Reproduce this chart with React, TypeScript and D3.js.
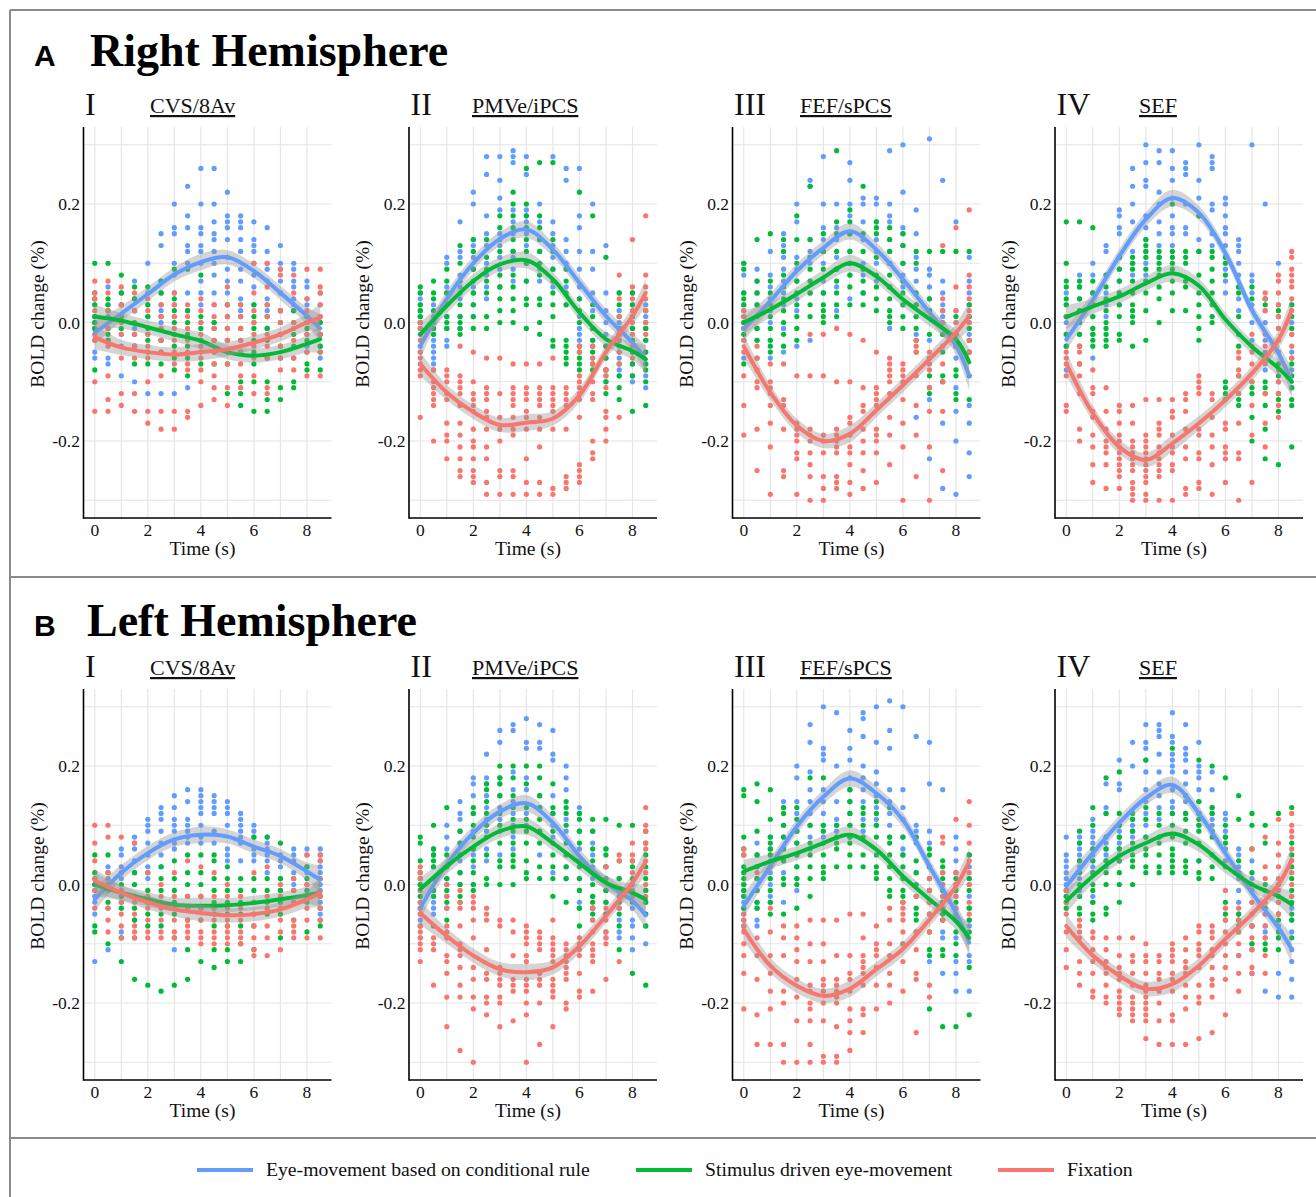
import React from "react";
import * as d3 from "d3";

// ---------- DATA ----------
const timePoints = [0, 0.5, 1, 1.5, 2, 2.5, 3, 3.5, 4, 4.5, 5, 5.5, 6, 6.5, 7, 7.5, 8, 8.5];
const curveTimes = [0, 1, 2, 3, 4, 5, 6, 7, 8, 8.5];
const ribbonHalf = [0.02, 0.013, 0.012, 0.012, 0.014, 0.012, 0.012, 0.012, 0.015, 0.024];
const xTicks = [0, 2, 4, 6, 8];
const yTicks = [-0.2, 0, 0.2];
const xGrid = [0, 1, 2, 3, 4, 5, 6, 7, 8];
const yGrid = [-0.3, -0.2, -0.1, 0, 0.1, 0.2, 0.3];
const hemispheres = ["Right Hemisphere", "Left Hemisphere"];
const hemiLetters = ["A", "B"];
const numerals = ["I", "II", "III", "IV"];
const regions = ["CVS/8Av", "PMVe/iPCS", "FEF/sPCS", "SEF"];
const seriesNames = ["Eye-movement based on conditional rule", "Stimulus driven eye-movement", "Fixation"];
const seriesColors = ["#619CFF", "#00BA38", "#F8766D"];

// dots: hundredths of % BOLD, groups per time point separated by "|"
// Right hemisphere
const rhCvsRule = "3 1 0 -1 -3 -5 -6|6 3 1 -1 -3 -6 -7|5 3 1 -2 -4 -9|7 4 2 -1 -4 -10|10 5 3 1 -2 -12|15 13 7 5 2 0 -3 -12|20 16 15 10 8 5 3 1 -12|23 18 16 13 12 10 5 2 -11|26 20 16 15 13 12 10 7 5 3 0|26 20 17 15 14 12 10 8 5 3 0|22 18 17 16 14 11 9 7 5 3|18 17 16 14 12 9 7 4 2|17 14 13 12 10 8 6 3 0|16 12 10 9 7 4 2 -1|13 10 9 7 5 2 0 -2|10 9 7 6 4 2 -1|7 6 4 3 1 -2 -4|5 3 1 0 -2 -4 -6";
const rhCvsStim = "10 5 4 3 1 0 -1 -8|10 4 3 2 -2 -3|8 5 3 1 -1|6 4 2 0 -2 -4 -7|6 3 1 -1 -3 -5 -7|7 5 3 1 -1 -3 -5 -7|9 4 2 0 -2 -4 -6 -8|9 2 0 -2 -4 -6 -9|8 1 -1 -3 -5 -7|0 -1 -3 -5 -7|3 1 -1 -3 -5 -7 -12|3 1 -1 -3 -5 -10 -12 -14|3 1 -1 -3 -5 -7 -10 -15|3 1 -1 -3 -6 -10 -13 -15|2 0 -2 -4 -6 -11 -13|2 0 -2 -4 -6 -10 -11|1 -1 -3 -5 -7 -8|0 -2 -4 -5 -8";
const rhCvsFix = "7 5 4 2 -2 -3 -10 -15|7 5 2 -1 -4 -9 -13 -15|6 3 0 -2 -6 -12 -14|5 2 -2 -4 -6 -12 -15|4 2 -2 -4 -6 -10 -15 -17|3 1 -1 -3 -5 -9 -15 -18|5 3 1 -1 -3 -5 -7 -15 -18|3 1 -1 -3 -5 -7 -8 -15 -16|4 2 0 -2 -4 -6 -8 -10 -14|3 1 -1 -3 -5 -7 -9 -11 -13|6 3 1 -1 -3 -5 -7 -11 -14|3 1 -1 -3 -5 -7 -9 -11|10 5 2 0 -2 -4 -6 -9 -12|10 6 3 1 -2 -4 -6 -11 -12|9 8 5 2 0 -2 -4 -6 -8|8 5 3 0 -3 -6 -8|9 4 2 0 -2 -5 -9|9 6 5 3 1 -2 -5 -9";
const rhPmvRule = "5 4 3 2 1 0 -2 -4 -5 -7|3 1 -1 -2 -3 -4 -5 -6 -7 -8|11 10 6 5 3 1 -1 -3 -4|17 12 11 8 6 4 1 -1|22 20 14 13 11 9 6 5 3 1|28 25 18 15 13 10 8 6 4|28 24 21 19 15 13 11 9 6|29 28 27 19 17 15 12 11 9 7|28 25 19 18 17 15 13 10 7|20 17 14 12 9 7|28 17 15 13 11 9 6|26 24 14 12 10 6 3|26 18 16 12 9 6 4 1 -1 -2 -3|20 12 9 5 2 -1 -3 -4 -6|13 5 2 0 -2 -4 -6 -8 -9 -10|5 2 0 -2 -4 -6 -8 -9|5 3 1 -1 -3 -5 -7 -9 -10|3 1 -1 -3 -5 -7 -9 -11";
const rhPmvStim = "6 5 3 2 1 0 -1|7 5 4 2 0 -1 -2|9 7 5 3 1 0 -1|13 10 7 5 3 1 0 -1 -2|14 12 9 7 5 3 1 -1|14 11 9 7 5 1 -1|18 16 14 12 8 6 4 2 0|22 20 18 16 14 12 8 6 4 2 0|26 20 18 16 14 12 10 7 4 3 -1|27 18 16 14 12 10 8 4 3 0 -2|27 14 12 9 7 5 3 1 -3 -4|9 7 5 3 -3 -4 -5 -6 -7|22 4 2 0 -4 -5 -6 -7 -8|18 3 1 -1 -3 -5 -7 -8|11 -4 -6 -8 -10 -12|5 3 1 -1 -3 -5 -7 -9 -11 -13|5 3 1 -1 -3 -5 -7 -9 -15|2 0 -1 -3 -5 -7 -8 -10 -14";
const rhPmvFix = "0 -1 -3 -5 -6 -8 -9 -16|-8 -10 -11 -12 -13 -14 -20|-8 -9 -10 -12 -13 -17 -19 -20 -23|-4 -9 -10 -11 -12 -14 -17 -19 -21 -23 -25 -26|-5 -10 -12 -13 -14 -15 -18 -20 -21 -23 -25 -26 -27|-6 -11 -12 -13 -15 -16 -18 -21 -23 -27 -29|-6 -12 -16 -18 -20 -25 -26 -29|-7 -11 -12 -13 -14 -16 -18 -19 -25 -26 -29|-7 -11 -12 -13 -15 -16 -18 -23 -27 -29|-7 -11 -12 -13 -14 -16 -18 -21 -27 -29|-6 -11 -12 -13 -14 -15 -18 -28 -29|-11 -12 -13 -14 -18 -26 -27 -28|-4 -5 -9 -10 -11 -12 -13 -16 -24 -25 -26 -27|-4 -6 -7 -10 -12 -13 -20 -22 -23|-8 -9 -11 -15 -16 -18 -20|8 4 1 -3 -5 -7 -16|14 6 4 2 0 -2 -4 -6|18 8 6 4 2 0 -2";
const rhFefRule = "10 8 5 3 2 0 -1 -3 -6|9 7 5 3 1 -1 -3|12 8 6 4 2 0 -3 -6|15 13 11 9 7 5 3 -1 -5|20 17 11 9 7 4 2 -4|24 23 14 12 10 7 5 -3|28 20 16 14 12 10 7 5|20 16 14 11 9 6 2|27 24 20 18 15 12 10 8 4|21 20 17 14 10 8 5|21 20 17 14 12 10 7|29 20 18 17 14 12 10 6 -1|30 22 16 15 13 10 8 6 3|19 15 11 9 7 3 1 -2 -16|31 9 8 6 4 2 -3 -6 -13 -23|24 7 5 3 1 -2 -4 -10 -17 -28|17 2 0 -2 -4 -6 -11 -15 -20 -29|11 7 5 3 1 0 -2 -5 -14 -17 -22 -26";
const rhFefStim = "10 9 5 4 3 1 0 -2 -7|14 7 5 3 1 -1 -3 -6|15 7 5 3 1 -1 -3 -4 -5|14 12 8 6 4 2 0 -2 -4|18 14 10 7 5 3 1 -1 -3|23 14 11 9 7 5 3 1|15 12 9 5 3 2 1 0|29 17 15 12 9 7 5 3 1|19 17 15 12 10 8 6 3|23 15 12 9 7 5 3|17 16 15 11 8 6 4 2|16 14 12 10 8 6 4 2 1 0|15 13 10 7 5 3 1 -1|12 10 5 3 1 -1 -3 -5|12 4 2 -2 -9 -11 -12|12 2 0 -2 -5 -9 -10|12 1 -2 -4 -8 -9 -12 -13|12 3 1 -1 -3 -5 -9 -13";
const rhFefFix = "2 1 -1 -3 -5 -9 -14 -19|-4 -6 -8 -10 -11 -18 -25|-7 -10 -11 -12 -14 -17 -21 -29|-7 -13 -14 -18 -25 -26|-9 -17 -18 -19 -20 -22 -23 -29|-2 -9 -18 -19 -20 -22 -24 -26 -30|-2 -9 -19 -20 -22 -26 -28 -30|-1 -10 -18 -19 -20 -21 -22 -26 -27 -28|-2 -10 -16 -17 -19 -21 -22 -24 -27 -29|-3 -11 -14 -15 -18 -20 -22 -25 -28|-5 -11 -12 -13 -14 -18 -19 -20 -22 -27|-6 -7 -8 -9 -10 -12 -16 -19 -24|-7 -8 -9 -10 -13 -17 -21 -30|-3 -4 -5 -9 -14 -19 -26|-5 -7 -8 -11 -15 -21 -30|13 4 2 0 -7 -10 -15 -25|16 6 2 0 -2 -4|19 8 6 4 2 0 -3 -5";
const rhSefRule = "5 3 1 0 -2 -4 -8|8 6 4 2 0 -2|10 8 5 3 1 -2 -6|13 12 8 5 3 1|19 18 16 15 11 9 7 5 3|26 23 20 17 12 10 8 5|30 27 24 23 18 16 14 12 10 8|29 27 22 20 17 15 13 11|29 26 24 21 18 16 15 13|27 26 25 20 16 15|30 24 21 18 14 12|28 27 26 20 19 15 13|21 20 18 16 15 13 11 9 7 5|14 13 12 10 8 6 4 2|30 8 7 5 3 0 -3|20 4 2 0 -3 -5 -8|10 3 1 -1 -5 -8 -10 -12|3 0 -2 -5 -8 -11";
const rhSefStim = "17 10 7 6 4 3 1 -2 -4|17 7 6 4 2 0 -2 -4 -7|16 7 5 3 1 -1 -2 -3 -4|8 6 4 2 0 -1 -2 -3 -4|11 9 7 5 3 1 -2 -3|11 10 9 7 5 3 2 1 0 -4|14 13 12 11 9 7 5 2 -3|12 11 10 9 8 6 4 0|20 12 11 10 9 7 5 2|12 11 10 7 6 2|18 12 8 5 3 1 -1 -3|12 11 9 7 5 3 1 0|11 10 8 -10 -11 -12 -13|6 5 1 -2 -4 -9 -12 -13 -14|6 4 -10 -11 -12 -16 -20|4 3 -10 -11 -12 -14 -18 -23|2 -7 -9 -12 -13 -15 -24|3 1 -1 -6 -7 -9 -11 -13 -14 -21";
const rhSefFix = "1 -5 -6 -7 -9 -14 -15|-4 -5 -7 -9 -12 -18 -20|-8 -11 -12 -15 -16 -19 -21 -24 -27|-11 -15 -18 -20 -21 -22 -24 -28|-14 -15 -17 -19 -20 -21 -22 -23 -24 -25 -26 -28|-14 -17 -20 -21 -22 -23 -24 -25 -27 -28 -29 -30|-13 -19 -20 -21 -22 -23 -24 -25 -26 -27 -29 -30|-13 -17 -18 -19 -21 -22 -23 -24 -25 -26 -30|-13 -15 -16 -19 -21 -22 -24 -25 -30|-12 -13 -15 -18 -21 -23 -28 -29|-9 -10 -11 -12 -18 -19 -22 -23 -27 -28|-12 -13 -16 -19 -21 -24 -29|-17 -18 -21 -22 -23 -27|-5 -6 -8 -9 -12 -17 -22 -23 -30|-2 -4 -5 -7 -10 -14 -19 -27|5 4 2 -2 -4 -7 -12 -17 -21|8 7 5 3 1 -1 -3 -5 -8 -10 -12 -14 -16|12 11 9 8 7 6 4 2 -2 -4 -6";
// Left hemisphere
const lhCvsRule = "0 -1 -2 -3 -5 -13|3 1 -1 -4 -11|6 5 3 1 -3 -8|8 7 6 4 2 -2 -6|11 10 9 7 5 3 1|13 12 11 9 7 5 3|15 13 11 10 9 7 6 -11|16 14 11 10 9 8 7|16 15 14 13 12 10 8 7|15 14 13 12 9 7|14 13 12 10 6 5 4|12 11 10 9 8 7 4|10 9 8 6 5 4|8 7 6 5 4 2|5 4 3 1 -1|6 5 4 2 0|6 5 3 2 0|6 5 4 3 2 0 -1 -3 -5";
const lhCvsStim = "5 2 1 0 -7 -8|5 2 0 -3 -10|2 0 -2 -4 -9 -13|2 0 -2 -4 -6 -9 -16|2 -1 -3 -5 -7 -17|3 1 -1 -3 -5 -7 -18|4 1 -1 -3 -5 -9 -17|5 2 0 -2 -4 -6 -11 -16|5 2 0 -2 -4 -6 -13|5 4 1 -1 -3 -5 -7 -11 -14|3 1 -1 -3 -5 -7 -11 -13|1 -1 -3 -5 -7 -10 -13|8 1 -1 -3 -5 -7 -11|8 1 -1 -3 -5|7 1 -1 -3 -5 -9|1 -1 -3 -6|3 1 -1 -3 -8|1 -2 -4 -6 -7";
const lhCvsFix = "10 7 4 1 -1 -4|10 8 2 -4 -6 -8|8 2 -1 -3 -5 -7 -9|7 -3 -5 -7 -8 -9|2 -2 -4 -6 -8 -9|0 -2 -4 -6 -8 -9|2 -2 -4 -6 -8 -9|4 -2 -4 -6 -7 -8 -9|3 -2 -4 -6 -8 -9 -10|2 -2 -4 -6 -8 -9 -10|0 -2 -4 -6 -7 -8 -9 -10|-2 -4 -6 -8 -9 -10|2 -3 -5 -7 -9 -11 -12|3 -2 -4 -7 -9 -12|0 -2 -4 -6 -8 -11|1 -1 -3 -6 -7 -8 -9|5 0 -2 -4 -6 -9|5 4 1 -2 -4 -6 -9";
const lhPmvRule = "0 -1 -2 -3 -4 -5 -6 -9|6 5 3 1 -1 -2 -3 -4 -5|10 8 6 3 1 0 -2 -4|14 12 11 9 7 4 2 0|18 17 15 12 9 6 5 3 0|22 18 17 15 13 11 9 6 4|26 24 18 17 15 13 11 9 5|27 26 19 16 14 12 10 8 6|28 24 23 18 16 12 10|27 24 23 15 13 9 5|26 22 21 15 12 10 8 2|20 18 16 11 9 5 3 1|13 12 9 6 4 1 -1 -3 -4|9 7 5 3 1 -2 -4 -6|6 3 1 -1 -3 -5 -8 -9|1 -2 -4 -6 -8 -9|0 -2 -4 -6 -7 -9 -11|-1 -3 -5 -7 -10";
const lhPmvStim = "8 7 4 2 1 0 -2 -7|10 6 5 4 3 1 -1 -2 -7|13 5 3 1 -1 -3 -6|9 7 5 2 0 -2 -3|13 12 10 8 6 4 2 0 -1|17 16 14 12 10 8 5 1 0|20 18 17 15 12 10 7 4 3 0|20 18 15 13 11 9 7 5 4 3 0|20 17 13 11 9 7 4 2 1|20 18 15 13 11 9 7 3 1|17 13 12 9 7 5 3 1 -2|14 13 12 10 7 5 3 1 -3|12 11 9 7 3 1 -1 -4 -7|11 9 6 4 2 0 -2 -3 -4 -5|11 6 5 3 1 -1 -3 -5|10 4 1 -1 -3 -5 -7 -11|10 4 3 1 -1 -3 -15|9 7 5 3 1 -1 -3 -5 -7 -17";
const lhPmvFix = "3 2 1 -1 -3 -4 -5 -7 -8 -9 -10 -11 -13|-9 -10 -11 -17|0 -2 -4 -7 -8 -9 -12 -13 -15 -19 -24|-1 -3 -4 -7 -10 -11 -12 -14 -17 -19 -28|-2 -3 -4 -6 -9 -14 -16 -19 -21 -30|-4 -5 -6 -11 -15 -16 -19 -20 -22|-6 -7 -14 -15 -16 -17 -19 -20 -24|-6 -8 -12 -16 -17 -18 -23|-7 -8 -9 -10 -12 -13 -16 -17 -18 -20 -22 -30|-8 -9 -10 -11 -15 -16 -17 -20 -27|-6 -9 -10 -11 -12 -13 -16 -17 -18 -19 -24|-10 -11 -12 -13 -14 -15 -16 -20 -21|-9 -10 -11 -12 -15 -18 -19|-4 -6 -8 -10 -11 -12 -13 -18|3 -4 -6 -8 -9 -10 -16|5 4 -4 -13|7 5 4 2 -1|13 10 9 7 6 4 2 0 -2";
const lhFefRule = "0 -1 -2 -3 -4 -5 -6 -7|7 5 3 1 -1 -3 -4 -6 -7|8 6 4 2 0 -2 -3|14 13 10 8 6 4 2 -3|20 18 14 12 9 7 5 3 1 -1|27 24 19 16 14 12 10 8 6|30 23 22 21 16 14 12 10 8|29 20 14 11 10 9 8|26 23 21 18 16 14 12 10 8|29 28 25 20 18 16 14 11 9|30 24 19 17 15 13 11 10|31 26 23 16 14 12 10 8|30 16 13 11 8 6 5|25 10 9 8 7 2|24 17 9 7 3 1 -1 -13|16 2 0 -2 -4 -6 -8 -9 -15|8 6 4 2 0 -2 -4 -9 -13 -15 -18|5 3 1 0 -2 -4 -6 -7 -12 -13 -18";
const lhFefStim = "16 15 8 6 5 3 2 1 0 -1 -2 -4|17 14 9 5 3 1 -1 -3 -4|16 11 8 7 6 5 3 1 -1 -3 -5|13 12 10 8 6 4 1 0 -5|13 11 9 7 5 3 1 0 -4|18 10 7 5 3 1 -2|18 10 9 7 5 3 2 1|10 8 7 6 3|16 14 12 10 8 7 5 3|13 12 10 8 5 3|14 12 10 8 5 3 2 1|13 8 7 5 3 1 -1 -2|8 5 3 1 -1 -2 -3 -10|8 4 2 0 -2 -4 -5 -6 -8|6 5 3 1 -1 -3 -5 -8 -11 -12 -21|4 3 1 -1 -3 -5 -6 -11 -12 -24|1 -1 -3 -5 -6 -8 -10 -12 -24|5 1 -1 -4 -6 -8 -14 -22";
const lhFefFix = "6 5 -5 -6 -7 -8 -10 -12 -15 -21|2 -9 -12 -16 -22 -27|-4 -8 -12 -15 -18 -21 -27|-7 -9 -12 -18 -20 -27 -30|-7 -9 -11 -13 -16 -19 -23 -30|-6 -10 -13 -17 -18 -20 -21 -23 -27 -30|-6 -10 -13 -16 -17 -18 -20 -23 -29 -30|-6 -12 -16 -17 -18 -19 -20 -24 -29 -30|-5 -12 -15 -16 -18 -21 -23 -25 -28|-5 -9 -12 -13 -14 -15 -17 -21 -22 -25|-7 -10 -11 -12 -14 -17 -21|-4 -6 -10 -12 -15 -17 -20|-3 -4 -5 -6 -8 -10 -13 -18|-2 -8 -11 -15 -16 -25|1 -1 -3 -5 -8 -17 -19|8 7 2 0 -2 -4 -6|11 2 0 -2 -4|14 10 7 4 2 0 -3 -5";
const lhSefRule = "8 5 4 3 2 1 0 -1 -2|8 7 6 5 4 3 1 -1 -2|11 9 8 7 6 5 4 3 2 -2 -3|17 13 12 7 6 5 4 3|21 17 16 10 9 8 7 6 5 4|24 20 11 10 9 8 6|27 24 23 21 19 16 14 12 10 8|27 26 25 22 19 17 15 13 11|29 25 24 22 21 20 19 16 14 13 12|27 23 22 21 19 17 14 12|24 20 19 18 16 14 12 10 4|19 16 13 12 11 10|12 11 9 8 6 4|6 5 3 1 -1 -3 -5 -12|4 1 -1 -3 -5 -7 -10 -15|-5 -7 -8 -9 -18|-3 -5 -7 -9 -15 -19|-2 -4 -6 -8 -11 -13 -16 -19";
const lhSefStim = "-1 -2 -3 -4|9 7 4 2 0 -2 -4 -5|13 10 6 4 2 0 -1 -3 -5 -6|18 12 8 6 4 2 0 -4 -5|19 12 10 8 6 4 2 0 -3|12 11 9 7 5 4 3 0|21 13 11 8 6 5 3 2|12 10 8 7 5 3 2|23 12 10 8 6 5 4 3 2|15 12 11 9 7 4 3 2|21 14 12 11 10 9 7 4 2 1|20 13 12 9 8 5 3 1|18 10 8 7 3 -3 -5 -6|15 11 4 2 -5 -6 -7 -8|12 10 6 2 0 -7 -10 -11|10 7 0 -4 -10 -11|12 0 -2 -5 -6 -8 -9 -11|13 7 5 3 1 -1 -3 -5 -6 -9";
const lhSefFix = "-1 -3 -5 -8 -11 -14|-6 -7 -8 -9 -13 -15 -17|-8 -9 -11 -13 -15 -18 -19|-9 -11 -13 -14 -15 -17 -19 -20|-9 -12 -14 -15 -16 -18 -19 -20 -21 -22|-9 -12 -13 -15 -17 -19 -20 -21 -22 -23|-10 -12 -13 -15 -17 -18 -19 -20 -21 -22 -23 -26|-12 -13 -15 -16 -18 -20 -23 -27|-10 -11 -12 -13 -15 -16 -18 -22 -23 -27|-9 -11 -13 -14 -15 -17 -19 -21 -27|-7 -8 -10 -11 -12 -14 -17 -19 -20 -26|-7 -8 -9 -11 -12 -14 -16 -17 -19 -25|-1 -4 -6 -8 -10 -12 -14 -16 -22|-4 -6 -8 -10 -12 -15 -18|6 -3 -5 -7 -9 -11 -14 -15|8 3 1 -1 -3 -5 -7 -9 -12 -15|11 7 5 3 1 -1 -3 -5|12 10 9 8 6 4 2 0 -2";

// smooth fits at curveTimes
const rhCvsFit = [[-0.017, 0.015, 0.048, 0.081, 0.102, 0.11, 0.087, 0.05, 0.011, -0.01], [0.01, 0.003, -0.008, -0.02, -0.031, -0.05, -0.056, -0.05, -0.036, -0.028], [-0.025, -0.042, -0.05, -0.054, -0.05, -0.045, -0.034, -0.02, 0.0, 0.008]];
const rhPmvFit = [[-0.04, 0.04, 0.1, 0.141, 0.157, 0.123, 0.067, 0.011, -0.034, -0.062], [-0.02, 0.028, 0.07, 0.098, 0.105, 0.073, 0.017, -0.028, -0.048, -0.062], [-0.07, -0.118, -0.151, -0.173, -0.169, -0.162, -0.123, -0.05, 0.011, 0.05]];
const rhFefFit = [[-0.011, 0.036, 0.087, 0.126, 0.154, 0.123, 0.073, 0.017, -0.039, -0.09], [0.0, 0.022, 0.048, 0.076, 0.1, 0.078, 0.039, 0.006, -0.028, -0.067], [-0.04, -0.118, -0.174, -0.2, -0.188, -0.148, -0.106, -0.062, -0.017, 0.011]];
const rhSefFit = [[-0.029, 0.038, 0.112, 0.174, 0.21, 0.185, 0.117, 0.021, -0.052, -0.1], [0.009, 0.027, 0.044, 0.066, 0.083, 0.062, 0.005, -0.041, -0.077, -0.1], [-0.069, -0.153, -0.21, -0.232, -0.204, -0.17, -0.131, -0.086, -0.029, 0.021]];
const lhCvsFit = [[-0.025, 0.02, 0.053, 0.076, 0.084, 0.081, 0.064, 0.048, 0.022, 0.008], [0.0, -0.014, -0.025, -0.034, -0.036, -0.035, -0.031, -0.025, -0.018, -0.014], [0.006, -0.014, -0.03, -0.042, -0.048, -0.052, -0.05, -0.042, -0.025, -0.014]];
const lhPmvFit = [[-0.04, 0.034, 0.087, 0.123, 0.137, 0.104, 0.048, 0.003, -0.028, -0.052], [-0.008, 0.031, 0.064, 0.09, 0.098, 0.07, 0.036, 0.003, -0.014, -0.025], [-0.048, -0.087, -0.12, -0.143, -0.148, -0.14, -0.104, -0.053, 0.003, 0.039]];
const lhFefFit = [[-0.036, 0.031, 0.098, 0.148, 0.179, 0.154, 0.109, 0.031, -0.048, -0.098], [0.022, 0.039, 0.053, 0.07, 0.084, 0.059, 0.014, -0.025, -0.062, -0.09], [-0.076, -0.137, -0.171, -0.188, -0.176, -0.143, -0.109, -0.059, -0.003, 0.039]];
const lhSefFit = [[-0.003, 0.053, 0.104, 0.146, 0.168, 0.12, 0.053, -0.014, -0.073, -0.109], [-0.028, 0.014, 0.048, 0.07, 0.086, 0.067, 0.031, 0.0, -0.02, -0.034], [-0.07, -0.12, -0.154, -0.176, -0.168, -0.137, -0.092, -0.05, 0.0, 0.042]];

const panelDots = [
  [[rhCvsRule, rhCvsStim, rhCvsFix], [rhPmvRule, rhPmvStim, rhPmvFix], [rhFefRule, rhFefStim, rhFefFix], [rhSefRule, rhSefStim, rhSefFix]],
  [[lhCvsRule, lhCvsStim, lhCvsFix], [lhPmvRule, lhPmvStim, lhPmvFix], [lhFefRule, lhFefStim, lhFefFix], [lhSefRule, lhSefStim, lhSefFix]],
];
const panelFits = [
  [rhCvsFit, rhPmvFit, rhFefFit, rhSefFit],
  [lhCvsFit, lhPmvFit, lhFefFit, lhSefFit],
];

// ---------- LAYOUT ----------
const W = 1316;
const H = 1197;
const colLeft = [83.5, 409, 732.5, 1055];
const regionX = [150, 472, 800, 1139];
const plotW = 248;
const plotH = 391;
const rowTop = [127, 689];
const titleBase = [66, 636];
const serif = "'Liberation Serif', 'Times New Roman', Times, serif";
const sans = "'Liberation Sans', Arial, Helvetica, sans-serif";

function parseDots(s: string): number[][] {
  return s.split("|").map((g) => g.trim().split(/\s+/).filter(Boolean).map((v) => Number(v) / 100));
}

function Panel({ row, col }: { row: number; col: number }) {
  const left = colLeft[col];
  const top = rowTop[row];
  const bottom = top + plotH;
  const x = d3.scaleLinear().domain([-0.425, 8.925]).range([left, left + plotW]);
  const y = d3.scaleLinear().domain([-0.33, 0.33]).range([bottom, top]);
  const dots = panelDots[row][col].map(parseDots);
  const fits = panelFits[row][col];
  const line = d3
    .line<number>()
    .x((_, i) => x(curveTimes[i]))
    .y((d) => y(d))
    .curve(d3.curveCatmullRom.alpha(0.5));
  const area = d3
    .area<number>()
    .x((_, i) => x(curveTimes[i]))
    .y0((d, i) => y(d - ribbonHalf[i]))
    .y1((d, i) => y(d + ribbonHalf[i]))
    .curve(d3.curveCatmullRom.alpha(0.5));
  return (
    <g>
      {xGrid.map((v) => (
        <line key={"gx" + v} x1={x(v)} x2={x(v)} y1={top} y2={bottom} stroke="#e4e4e4" strokeWidth={1.1} />
      ))}
      {yGrid.map((v) => (
        <line key={"gy" + v} x1={left} x2={left + plotW} y1={y(v)} y2={y(v)} stroke="#e4e4e4" strokeWidth={1.1} />
      ))}
      {dots.map((series, si) =>
        series.map((vals, ti) =>
          vals.map((v, k) => (
            <circle key={`d${si}-${ti}-${k}`} cx={x(timePoints[ti])} cy={y(v)} r={2.6} fill={seriesColors[si]} />
          ))
        )
      )}
      {fits.map((f, si) => (
        <g key={"fit" + si}>
          <path d={area(f) || ""} fill="#999999" fillOpacity={0.42} />
          <path d={line(f) || ""} fill="none" stroke={seriesColors[si]} strokeWidth={4} strokeLinecap="round" />
        </g>
      ))}
      <line x1={left} x2={left} y1={top} y2={bottom + 0.8} stroke="#000" strokeWidth={1.6} />
      <line x1={left} x2={left + plotW} y1={bottom} y2={bottom} stroke="#000" strokeWidth={1.6} />
      {yTicks.map((v) => (
        <text key={"yt" + v} x={left - 3.5} y={y(v) + 6} textAnchor="end" fontSize={17.5} fontFamily={serif} fill="#111">
          {v.toFixed(1)}
        </text>
      ))}
      {xTicks.map((v) => (
        <text key={"xt" + v} x={x(v)} y={bottom + 18} textAnchor="middle" fontSize={17.5} fontFamily={serif} fill="#111">
          {v}
        </text>
      ))}
      <text x={left + 119} y={bottom + 37} textAnchor="middle" fontSize={19.5} fontFamily={serif} fill="#111">
        Time (s)
      </text>
      <text
        transform={`translate(${left - 40}, ${top + 187}) rotate(-90)`}
        textAnchor="middle"
        fontSize={19.5}
        fontFamily={serif}
        fill="#111"
      >
        BOLD change (%)
      </text>
      <text x={left + 1.5} y={top - 12} fontSize={32} fontFamily={serif} fill="#111">
        {numerals[col]}
      </text>
      <text x={regionX[col]} y={top - 14} fontSize={22} fontFamily={serif} fill="#111" textDecoration="underline">
        {regions[col]}
      </text>
    </g>
  );
}

export default function App() {
  const legendX = [197, 636, 998];
  return (
    <div style={{ position: "absolute", left: 0, top: 0 }}>
      <svg width={W} height={H} viewBox={`0 0 ${W} ${H}`} style={{ display: "block", background: "#fff" }}>
        <rect x={0} y={0} width={W} height={H} fill="#fff" />
        <line x1={10} x2={W} y1={10} y2={10} stroke="#8a8a8a" strokeWidth={2} />
        <line x1={10} x2={10} y1={10} y2={H} stroke="#8a8a8a" strokeWidth={2} />
        <line x1={10} x2={W} y1={577} y2={577} stroke="#8a8a8a" strokeWidth={2} />
        <line x1={10} x2={W} y1={1138} y2={1138} stroke="#8a8a8a" strokeWidth={2} />
        {hemispheres.map((h, r) => (
          <g key={h}>
            <text x={34} y={titleBase[r]} fontSize={30} fontWeight="bold" fontFamily={sans} fill="#000">
              {hemiLetters[r]}
            </text>
            <text x={r === 0 ? 90 : 87} y={titleBase[r]} fontSize={46} fontWeight="bold" fontFamily={serif} fill="#000">
              {h}
            </text>
          </g>
        ))}
        {[0, 1].map((r) => [0, 1, 2, 3].map((c) => <Panel key={`p${r}${c}`} row={r} col={c} />))}
        {seriesNames.map((n, i) => (
          <g key={n}>
            <line x1={legendX[i]} x2={legendX[i] + 56} y1={1170} y2={1170} stroke={seriesColors[i]} strokeWidth={4} />
            <text x={legendX[i] + 69} y={1176} fontSize={19.7} fontFamily={serif} fill="#111">
              {n}
            </text>
          </g>
        ))}
      </svg>
    </div>
  );
}
